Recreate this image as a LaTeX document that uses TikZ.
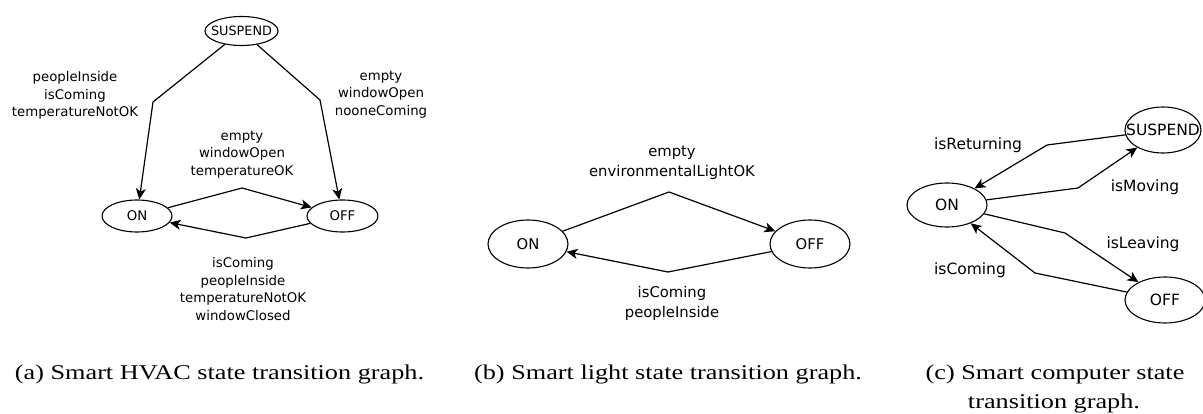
\documentclass[tikz,border=0pt]{standalone}
\usepackage{fontspec}
\setmainfont{DejaVu Sans}
\newfontfamily\capfont[FakeStretch=1.25]{Liberation Serif}
\usetikzlibrary{shapes.geometric,arrows.meta}
\tikzset{
  st/.style={ellipse, draw, line width=1.1pt, inner sep=0pt},
  edge/.style={draw, line width=1.2pt, -{Stealth[length=11pt,width=10pt,inset=3pt]}},
  txtA/.style={inner sep=0pt, align=center, font=\fontsize{13.3}{17.5}\selectfont},
  txtB/.style={inner sep=0pt, align=center, font=\fontsize{14.8}{20}\selectfont},
  txtC/.style={inner sep=0pt, align=center, font=\fontsize{15.5}{19}\selectfont},
  captxt/.style={inner sep=0pt, anchor=base, font=\capfont\fontsize{21}{25}\selectfont}
}
\begin{document}
\begin{tikzpicture}[x=1pt,y=-1pt]
\path[use as bounding box, fill=white] (0,0) rectangle (1203,414);
% ---------------- (a) ----------------
\node[st, minimum width=73pt, minimum height=29pt] (aS) at (241.5,31) {};
\node[txtA, font=\fontsize{12.8}{15}\selectfont] (aSt) at (aS) {SUSPEND};
\node[st, minimum width=70pt, minimum height=32pt] (aON) at (137,216) {};
\node[txtA] (aONt) at (aON) {ON};
\node[st, minimum width=71pt, minimum height=32pt] (aOFF) at (342.5,216) {};
\node[txtA] (aOFFt) at (aOFF) {OFF};
\coordinate (a1) at (153,102);
\coordinate (a2) at (320,100);
\coordinate (a3) at (242,188);
\coordinate (a4) at (246,238);
\draw[edge] (aS) -- (a1) -- (aON);
\draw[edge] (aS) -- (a2) -- (aOFF);
\draw[edge] (aON) -- (a3) -- (aOFF);
\draw[edge] (aOFF) -- (a4) -- (aON);
\node[txtA] (aL1) at (75,95.5) {peopleInside\\isComing\\temperatureNotOK};
\node[txtA] (aL2) at (381,94.5) {empty\\windowOpen\\nooneComing};
\node[txtA] (aL3) at (242,154.5) {empty\\windowOpen\\temperatureOK};
\node[txtA] (aL4) at (243,289) {isComing\\peopleInside\\temperatureNotOK\\windowClosed};
% ---------------- (b) ----------------
\node[st, minimum width=80pt, minimum height=48pt] (bON) at (528,244) {};
\node[txtB] (bONt) at (bON) {ON};
\node[st, minimum width=80pt, minimum height=48pt] (bOFF) at (810,244) {};
\node[txtB] (bOFFt) at (bOFF) {OFF};
\coordinate (b1) at (669,192);
\coordinate (b2) at (668,272);
\draw[edge] (bON) -- (b1) -- (bOFF);
\draw[edge] (bOFF) -- (b2) -- (bON);
\node[txtB] (bL1) at (672,163) {empty\\environmentalLightOK};
\node[txtB] (bL2) at (672,303) {isComing\\peopleInside};
% ---------------- (c) ----------------
\node[st, minimum width=76pt, minimum height=46pt] (cS) at (1163,130) {};
\node[txtC] (cSt) at (cS) {SUSPEND};
\node[st, minimum width=80pt, minimum height=44pt] (cON) at (947,205) {};
\node[txtC] (cONt) at (cON) {ON};
\node[st, minimum width=80pt, minimum height=46pt] (cOFF) at (1165,300) {};
\node[txtC] (cOFFt) at (cOFF) {OFF};
\coordinate (c1) at (1047,145);
\coordinate (c2) at (1078,188);
\coordinate (c3) at (1065,233);
\coordinate (c4) at (1035,273);
\draw[edge] (cS) -- (c1) -- (cON);
\draw[edge] (cON) -- (c2) -- (cS);
\draw[edge] (cON) -- (c3) -- (cOFF);
\draw[edge] (cOFF) -- (c4) -- (cON);
\node[txtC] (cL1) at (978,145) {isReturning};
\node[txtC] (cL2) at (1145,187) {isMoving};
\node[txtC] (cL3) at (1143,244) {isLeaving};
\node[txtC] (cL4) at (970,270) {isComing};
% ---------------- captions ----------------
\node[captxt] (capA) at (219.5,379) {(a) Smart HVAC state transition graph.};
\node[captxt] (capB) at (668,379) {(b) Smart light state transition graph.};
\node[captxt] (capC1) at (1055,379) {(c) Smart computer state};
\node[captxt] (capC2) at (1054,408) {transition graph.};
\end{tikzpicture}
\end{document}
